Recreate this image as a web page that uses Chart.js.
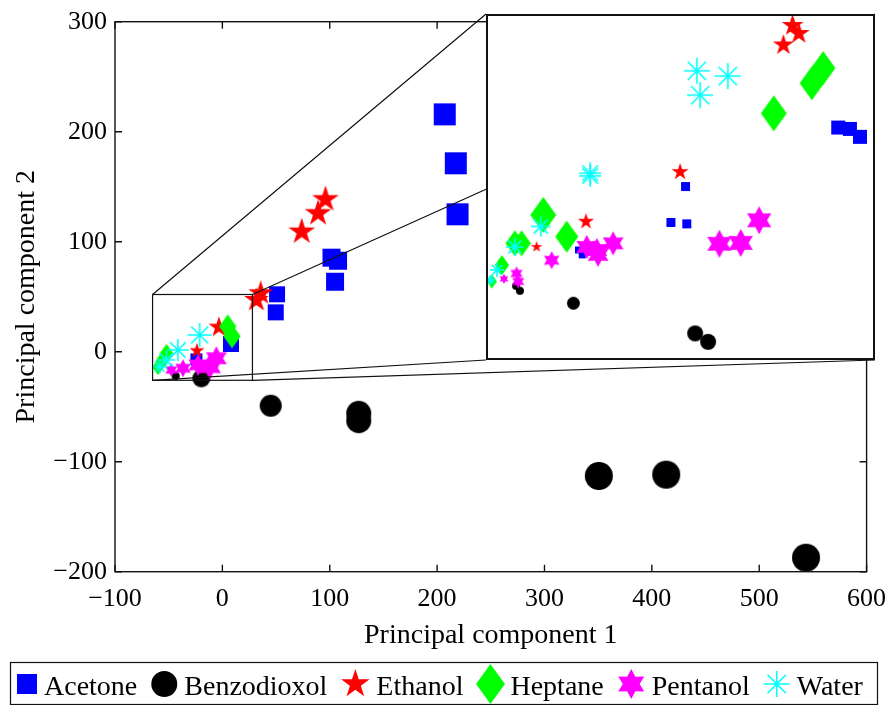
<!DOCTYPE html>
<html>
<head>
<meta charset="utf-8">
<script src="https://cdn.jsdelivr.net/npm/chart.js@4.4.0/dist/chart.umd.min.js"></script>
<style>
  html, body { margin: 0; padding: 0; background: #fff; }
  #wrap { position: relative; width: 889px; height: 705px; }
  #main { position: absolute; left: 0; top: 0; }
  #inset { position: absolute; left: 486px; top: 14px; background: #fff; }
</style>
</head>
<body>
<div id="wrap">
  <canvas id="main" width="889" height="705"></canvas>
  <canvas id="inset" width="389" height="346"></canvas>
</div>
<script>
// PCA scores, full view
const acetoneX = [207.1, 217.4, 219.0, 101.6, 107.7, 104.9, 50.9, 49.7, 8.0, -24.2]
const acetoneY = [215.8, 171.3, 124.9, 85.5, 82.7, 63.6, 52.2, 35.8, 7.0, -7.0]
const benzoX = [-43.5, -19.6, 45.0, 127.0, 127.0, 350.6, 413.4, 543.6]
const benzoY = [-22.1, -24.2, -49.1, -56.0, -62.7, -113.0, -111.8, -187.3]
const ethanolX = [96.0, 89.1, 73.9, 35.7, 31.7, -3.2, -23.7]
const ethanolY = [138.5, 125.8, 109.1, 53.1, 47.0, 22.2, 0.9]
const heptaneX = [5, 9, -52, -56, -60]
const heptaneY = [23, 14, -2, -8, -14]
const pentanolX = [-47.5, -36.7, -22.7, -11.8, -5.6]
const pentanolY = [-16.6, -15, -12, -13.6, -6]
const waterX = [-58.4, -52.3, -41.4, -21.2]
const waterY = [-13.6, -7.5, 1.5, 15.2]

// PCA scores, zoomed view near the origin
const zAcetoneX = [19.2, 22.0, 24.4, -17.3, -20.8, -17.0, -42.9, -42.0]
const zAcetoneY = [26.4, 26.1, 24.3, 13.1, 5.0, 4.7, -1.2, -2.3]
const zBenzoX = [-57.8, -56.9, -44.1, -15.0, -11.9]
const zBenzoY = [-9.3, -10.4, -13.2, -20.0, -21.9]
const zEthanolX = [8.3, 9.8, 6.1, -18.6, -41.1, -52.9]
const zEthanolY = [49.4, 47.6, 45.0, 16.4, 5.2, -0.5]
const zHeptaneX = [15.6, 12.9, 3.8, -51.3, -45.7, -58.1, -56.5, -61.2, -63.6]
const zHeptaneY = [39.8, 36.4, 29.6, 6.7, 1.8, 0.3, 0.3, -4.6, -8.3]
const zPentanolX = [-60.7, -57.7, -57.3, -49.3, -40.9, -38.5, -38.2, -34.6, -9.2, -4.1, 0.3]
const zPentanolY = [-7.7, -6.5, -8.3, -3.5, -0.5, -1.2, -2.3, 0.3, 0.2, 0.4, 5.5]
const zWaterX = [-64.0, -62.4, -58.1, -51.9, -40.1, -40.1, -14.6, -7.2, -13.8]
const zWaterY = [-8.0, -5.7, -0.5, 4.1, 15.5, 16.1, 39.2, 38.0, 33.7]

// marker radius (px) per sample
const acetoneR = [11, 11, 11, 9, 9, 9, 8, 8, 8, 6]
const benzoR = [4, 9, 11, 12.5, 12.5, 14, 14, 14]
const ethanolR = [14, 14, 14, 13, 13, 11, 8]
const heptaneR = [12, 12, 10, 9, 8]
const pentanolR = [7, 9, 11, 13, 12]
const waterR = [7, 9, 11, 12]
const zAcetoneR = [7, 7, 7, 4.5, 4.5, 4.5, 3.5, 3.5]
const zBenzoR = [4, 4, 6.5, 8, 8]
const zEthanolR = [11.5, 11.5, 11, 9, 8.5, 6]
const zHeptaneR = [17, 17, 18, 18, 16, 13, 13, 10, 7]
const zPentanolR = [5, 7, 7, 9, 12, 12, 12, 12, 14, 14, 14]
const zWaterR = [5, 7, 9, 10, 11, 11, 13, 13, 13]

const labels = ['Acetone', 'Benzodioxol', 'Ethanol', 'Heptane', 'Pentanol', 'Water']
const xTicks = [-100, 0, 100, 200, 300, 400, 500, 600]
const yTicks = [-200, -100, 0, 100, 200, 300]
const zoomX = [-65, 28]
const zoomY = [-26, 52]

const shapes = ['square', 'circle', 'pentagram', 'diamond', 'hexagram', 'asterisk']
const colors = ['#0000ff', '#000000', '#ff0000', '#00ff00', '#ff00ff', '#00ffff']
const serif = "'Liberation Serif', 'DejaVu Serif', serif"

function starPath(g, n, ro, ri) {
  for (let k = 0; k < 2 * n; k++) {
    const a = -Math.PI / 2 + k * Math.PI / n
    const rr = k % 2 ? ri : ro
    if (k === 0) g.moveTo(rr * Math.cos(a), rr * Math.sin(a))
    else g.lineTo(rr * Math.cos(a), rr * Math.sin(a))
  }
  g.closePath()
}

function drawMarker(g, shape, color, x, y, r) {
  g.save()
  g.translate(x, y)
  g.fillStyle = color
  g.strokeStyle = color
  g.beginPath()
  if (shape === 'square') g.rect(-r, -r, 2 * r, 2 * r)
  else if (shape === 'circle') g.arc(0, 0, r, 0, Math.PI * 2)
  else if (shape === 'diamond') {
    g.moveTo(0, -r); g.lineTo(r * 0.72, 0); g.lineTo(0, r); g.lineTo(-r * 0.72, 0); g.closePath()
  }
  else if (shape === 'pentagram') starPath(g, 5, r, r * 0.382)
  else if (shape === 'hexagram') starPath(g, 6, r, r * 0.56)
  else if (shape === 'asterisk') {
    for (let k = 0; k < 4; k++) {
      const a = k * Math.PI / 4
      g.moveTo(r * Math.cos(a), r * Math.sin(a))
      g.lineTo(-r * Math.cos(a), -r * Math.sin(a))
    }
  }
  if (shape === 'asterisk') { g.lineWidth = 1.6; g.stroke() } else g.fill()
  g.restore()
}

const markerCache = {}
function markerCanvas(shape, color, r) {
  const key = shape + color + r
  if (markerCache[key]) return markerCache[key]
  const size = Math.ceil(r * 2 + 4)
  const c = document.createElement('canvas')
  c.width = size
  c.height = size
  drawMarker(c.getContext('2d'), shape, color, size / 2, size / 2, r)
  markerCache[key] = c
  return c
}

function makeDatasets(xs, ys, rs) {
  return labels.map((label, i) => ({
    label: label,
    data: xs[i].map((v, j) => ({ x: v, y: ys[i][j] })),
    order: labels.length - i,
    showLine: false,
    pointBorderWidth: 0,
    pointRadius: ctx => rs[i][ctx.dataIndex] || 1,
    pointStyle: ctx => markerCanvas(shapes[i], colors[i], rs[i][ctx.dataIndex] || 1)
  }))
}

const fmt = v => (v < 0 ? '\u2212' + Math.abs(v) : String(v))

const frameLayer = {
  id: 'frameLayer',
  afterDatasetsDraw(chart) {
    const g = chart.ctx
    const a = chart.chartArea
    const sx = chart.scales.x
    const sy = chart.scales.y
    g.save()
    g.strokeStyle = '#111'
    g.lineWidth = 1.4
    g.strokeRect(a.left, a.top, a.right - a.left, a.bottom - a.top)
    g.beginPath()
    xTicks.forEach(v => {
      const p = sx.getPixelForValue(v)
      g.moveTo(p, a.bottom); g.lineTo(p, a.bottom - 7)
      g.moveTo(p, a.top); g.lineTo(p, a.top + 7)
    })
    yTicks.forEach(v => {
      const p = sy.getPixelForValue(v)
      g.moveTo(a.left, p); g.lineTo(a.left + 7, p)
      g.moveTo(a.right, p); g.lineTo(a.right - 7, p)
    })
    g.stroke()

    // zoom window and its connectors to the inset
    const l = sx.getPixelForValue(zoomX[0]), r = sx.getPixelForValue(zoomX[1])
    const t = sy.getPixelForValue(zoomY[1]), b = sy.getPixelForValue(zoomY[0])
    const inset = document.getElementById('inset')
    const il = inset.offsetLeft, it = inset.offsetTop
    const ir = il + inset.width, ib = it + inset.height
    g.lineWidth = 1.2
    g.strokeRect(l, t, r - l, b - t)
    g.beginPath()
    g.moveTo(l, t); g.lineTo(il, it)
    g.moveTo(r, t); g.lineTo(ir, it)
    g.moveTo(l, b); g.lineTo(il, ib)
    g.moveTo(r, b); g.lineTo(ir, ib)
    g.stroke()

    // axis titles
    g.fillStyle = '#000'
    g.font = '28px ' + serif
    g.textAlign = 'center'
    g.textBaseline = 'middle'
    g.fillText('Principal component 1', (a.left + a.right) / 2, 636)
    g.save()
    g.translate(27, (a.top + a.bottom) / 2)
    g.rotate(-Math.PI / 2)
    g.fillText('Principal component 2', 0, 0)
    g.restore()

    // legend
    g.lineWidth = 1.2
    g.strokeStyle = '#111'
    g.strokeRect(10.5, 662.5, 867, 42)
    const legendR = [10, 13, 15, 20, 15, 13]
    const legendW = [20, 26, 28, 26, 27, 26]
    let x = 17
    g.textAlign = 'left'
    g.textBaseline = 'alphabetic'
    labels.forEach((label, i) => {
      drawMarker(g, shapes[i], colors[i], x + legendW[i] / 2, 684, legendR[i])
      x += legendW[i] + 7
      g.fillStyle = '#000'
      g.fillText(label, x, 695)
      x += g.measureText(label).width + 14
    })
    g.restore()
  }
}

new Chart(document.getElementById('main'), {
  type: 'scatter',
  data: { datasets: makeDatasets(
    [acetoneX, benzoX, ethanolX, heptaneX, pentanolX, waterX],
    [acetoneY, benzoY, ethanolY, heptaneY, pentanolY, waterY],
    [acetoneR, benzoR, ethanolR, heptaneR, pentanolR, waterR]) },
  options: {
    responsive: false,
    animation: false,
    events: [],
    layout: { autoPadding: false, padding: { left: 0, top: 21.7, right: 22.4, bottom: 0 } },
    scales: {
      x: {
        type: 'linear', min: -100, max: 600,
        afterBuildTicks: s => { s.ticks = xTicks.map(v => ({ value: v })) },
        afterFit: s => { s.height = 133.3; s.paddingLeft = 0; s.paddingRight = 0 },
        grid: { display: false, drawTicks: false },
        border: { display: false },
        ticks: { color: '#000', font: { family: serif, size: 26 }, padding: 12, maxRotation: 0, callback: fmt }
      },
      y: {
        type: 'linear', min: -200, max: 300,
        afterBuildTicks: s => { s.ticks = yTicks.map(v => ({ value: v })) },
        afterFit: s => { s.width = 115; s.paddingTop = 0; s.paddingBottom = 0 },
        grid: { display: false, drawTicks: false },
        border: { display: false },
        ticks: { color: '#000', font: { family: serif, size: 26 }, padding: 8, callback: fmt }
      }
    },
    plugins: { legend: { display: false }, tooltip: { enabled: false } }
  },
  plugins: [frameLayer]
})

const insetFrame = {
  id: 'insetFrame',
  beforeDraw(chart) {
    const g = chart.ctx
    g.save()
    g.fillStyle = '#fff'
    g.fillRect(0, 0, chart.width, chart.height)
    g.restore()
  },
  afterDraw(chart) {
    const g = chart.ctx
    g.save()
    g.strokeStyle = '#111'
    g.lineWidth = 2
    g.strokeRect(1, 1, chart.width - 2, chart.height - 2)
    g.restore()
  }
}

new Chart(document.getElementById('inset'), {
  type: 'scatter',
  data: { datasets: makeDatasets(
    [zAcetoneX, zBenzoX, zEthanolX, zHeptaneX, zPentanolX, zWaterX],
    [zAcetoneY, zBenzoY, zEthanolY, zHeptaneY, zPentanolY, zWaterY],
    [zAcetoneR, zBenzoR, zEthanolR, zHeptaneR, zPentanolR, zWaterR]) },
  options: {
    responsive: false,
    animation: false,
    events: [],
    layout: { autoPadding: false, padding: 0 },
    scales: {
      x: { type: 'linear', display: false, min: zoomX[0], max: zoomX[1] },
      y: { type: 'linear', display: false, min: zoomY[0], max: zoomY[1] }
    },
    plugins: { legend: { display: false }, tooltip: { enabled: false } }
  },
  plugins: [insetFrame]
})
</script>
</body>
</html>
